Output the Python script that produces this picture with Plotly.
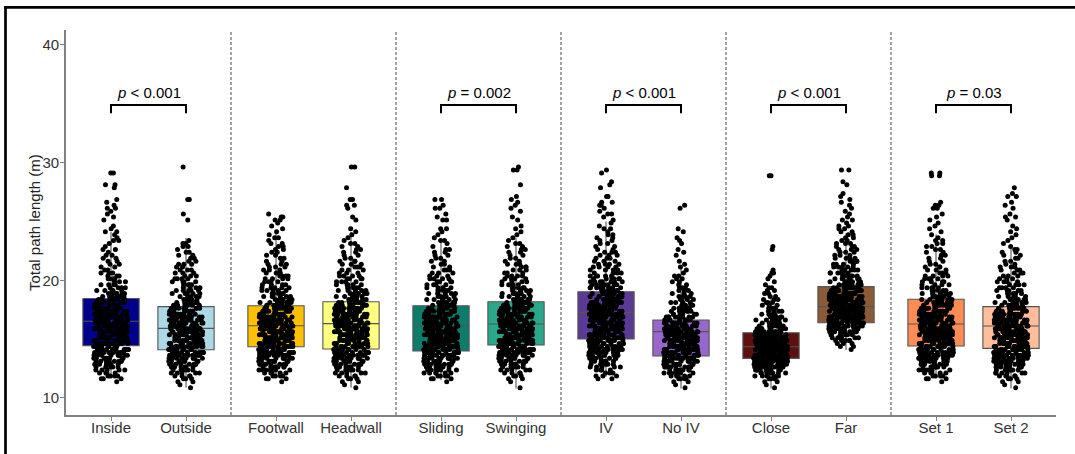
import plotly.graph_objects as go

# ---------------- data ----------------
categories = ["Inside", "Outside", "Footwall", "Headwall", "Sliding", "Swinging",
              "IV", "No IV", "Close", "Far", "Set 1", "Set 2"]
box_colors = ["#00008B", "#ADD8E6", "#FFC000", "#FFFF80", "#0E7C6B", "#2AA68A",
              "#5A3A94", "#9966CC", "#5E1010", "#8B5A36", "#FF8C55", "#FFBD9B"]

q1 = [14.45, 14.10, 14.36, 14.16, 14.00, 14.50, 15.01, 13.57, 13.37, 16.40, 14.42, 14.22]
median = [16.52, 15.92, 16.14, 16.32, 16.14, 16.29, 17.25, 15.64, 14.36, 17.76, 16.29, 16.12]
q3 = [18.45, 17.76, 17.84, 18.18, 17.84, 18.18, 19.03, 16.63, 15.55, 19.46, 18.39, 17.76]
lower_whisker = [11.67, 10.90, 11.67, 10.90, 11.50, 10.80, 11.80, 10.80, 10.80, 14.08, 11.67, 10.80]
upper_whisker = [24.10, 23.60, 24.30, 24.10, 23.50, 23.60, 25.00, 21.00, 18.80, 24.00, 23.90, 23.00]

# individual path lengths, read as counts per 0.25 m bin starting at 10.0 m (80 bins)
bin_start = 10.0
bin_width = 0.25
counts_inside = [0,0,0,0, 0,1,3,4, 4,5,6,7, 8,9,10,11, 10,11,10,11, 11,10,11,10, 10,11,10,9, 10,9,9,8,
                 9,8,7,6, 5,4,4,3, 4,3,3,2, 2,2,2,2, 2,1,2,1, 1,2,1,1, 2,1,1,0, 1,1,1,1, 2,1,1,1,
                 0,0,0,1, 2,0,0,0, 2,0,0,0]
counts_outside = [0,0,0,1, 1,2,3,4, 5,6,7,8, 9,10,10,11, 11,12,11,12, 12,11,12,11, 11,11,10,10, 9,9,8,7,
                  6,6,5,5, 5,4,4,4, 4,3,3,3, 2,3,2,2, 2,2,1,2, 2,1,0,0, 0,0,0,0, 1,0,1,0, 0,0,0,2,
                  0,0,0,0, 0,0,0,0, 0,0,1,0]
counts_footwall = [0,0,0,0, 0,1,3,4, 5,7,8,9, 10,10,11,12, 12,12,12,12, 12,12,12,12, 12,11,11,10, 10,9,9,8,
                   7,6,6,5, 5,5,4,4, 4,4,3,3, 3,3,2,2, 2,2,2,2, 2,1,2,1, 1,1,1,1, 2,2,1,0, 0,0,0,0,
                   0,0,0,0, 0,0,0,0, 0,0,0,0]
counts_headwall = [0,0,0,1, 1,2,3,4, 5,6,7,8, 9,9,10,10, 11,11,11,11, 11,11,11,11, 11,11,10,10, 10,9,9,9,
                   8,7,6,6, 5,5,5,4, 4,4,3,3, 3,3,3,2, 2,2,2,2, 2,1,1,1, 1,1,0,0, 1,1,0,0, 1,2,0,2,
                   0,0,0,1, 0,0,0,0, 0,0,2,0]
counts_sliding = [0,0,0,0, 0,1,3,4, 6,7,8,9, 10,11,11,12, 12,12,12,12, 12,12,12,11, 11,11,10,10, 9,9,8,7,
                  7,6,5,5, 5,4,4,4, 4,3,3,3, 2,2,2,2, 2,2,2,1, 1,2,1,1, 1,2,0,0, 2,1,1,0, 2,1,0,2,
                  0,0,0,0, 0,0,0,0, 0,0,0,0]
counts_swinging = [0,0,0,1, 0,1,2,3, 4,5,6,7, 8,9,10,11, 11,12,12,12, 12,12,12,12, 12,11,11,10, 10,10,9,9,
                   8,7,6,6, 5,5,4,4, 4,4,3,3, 3,3,2,2, 2,2,2,2, 2,1,1,1, 1,1,1,0, 1,1,0,1, 1,1,1,1,
                   1,0,0,0, 1,0,0,0, 0,2,1,0]
counts_iv = [0,0,0,0, 0,0,2,3, 3,4,5,6, 6,7,8,9, 9,10,11,11, 11,11,12,12, 12,12,12,12, 12,11,11,11,
             11,10,10,9, 8,8,7,7, 6,5,5,4, 4,4,3,3, 3,3,2,2, 2,2,2,2, 1,2,1,1, 1,1,2,1, 1,2,2,0,
             2,0,0,1, 1,1,0,0, 1,1,0,0]
counts_no_iv = [0,0,0,1, 1,2,4,5, 7,8,9,10, 11,12,12,13, 13,13,13,13, 13,13,12,12, 11,10,9,8, 7,6,5,5,
                4,4,4,3, 3,3,2,2, 2,2,1,1, 1,1,1,0, 1,1,1,0, 1,1,1,0, 1,1,0,0, 0,0,0,0, 1,1,0,0,
                0,0,0,0, 0,0,0,0, 0,0,0,0]
counts_close = [0,0,0,1, 1,2,4,6, 8,10,12,14, 16,17,18,18, 18,18,17,16, 14,12,10,9, 8,7,6,5, 5,4,4,3,
                3,3,2,2, 2,2,1,1, 1,1,2,1, 0,0,0,0, 0,0,1,1, 0,0,0,0, 0,0,0,0, 0,0,0,0, 0,0,0,0,
                0,0,0,0, 0,0,0,2, 0,0,0,0]
counts_far = [0,0,0,0, 0,0,0,0, 0,0,0,0, 0,0,0,0, 1,2,3,5, 6,8,10,12, 14,15,16,17, 17,17,17,16,
              15,14,13,12, 11,10,9,8, 7,6,6,5, 5,4,4,4, 3,3,3,3, 3,2,2,2, 2,2,2,1, 2,1,1,1, 1,1,1,1,
              1,1,0,0, 1,1,0,0, 0,2,0,0]
counts_set1 = [0,0,0,0, 0,1,3,4, 5,6,7,8, 9,10,10,11, 11,11,12,12, 12,12,12,12, 11,11,11,10, 10,10,9,9,
               8,7,6,6, 5,5,4,4, 4,4,3,3, 3,2,2,2, 2,2,2,2, 2,2,1,1, 1,1,1,1, 1,1,1,0, 2,2,1,0,
               0,0,0,0, 0,0,0,2, 2,0,0,0]
counts_set2 = [0,0,0,1, 1,2,3,5, 6,7,8,9, 10,11,11,12, 12,12,12,12, 12,12,12,12, 11,11,10,10, 9,8,8,7,
               6,6,5,5, 5,4,4,4, 3,3,3,3, 3,2,2,2, 2,2,2,1, 1,1,1,1, 1,1,1,0, 1,2,1,0, 1,1,1,0,
               2,1,0,1, 0,0,0,0, 0,0,0,0]
all_counts = [counts_inside, counts_outside, counts_footwall, counts_headwall, counts_sliding,
              counts_swinging, counts_iv, counts_no_iv, counts_close, counts_far, counts_set1, counts_set2]

# significance brackets: (index of left category, label)
comparisons = [(0, "<i>p</i> &lt; 0.001"), (4, "<i>p</i> = 0.002"), (6, "<i>p</i> &lt; 0.001"),
               (8, "<i>p</i> &lt; 0.001"), (10, "<i>p</i> = 0.03")]

# ---------------- layout helpers ----------------
GROUP_W = 2.2
positions = [(i // 2) * GROUP_W + 0.6 + (i % 2) for i in range(len(categories))]
BOX_W = 0.75
W, H = 1075, 454
ML, MR, MT, MB = 66, 19, 30, 39
PW, PH = W - ML - MR, H - MT - MB


def px_x(p):
    return (p - ML) / PW


def px_y(p):
    return (H - MB - p) / PH


fig = go.Figure()

for i, cat in enumerate(categories):
    fig.add_trace(go.Box(
        x=[positions[i]], q1=[q1[i]], median=[median[i]], q3=[q3[i]],
        lowerfence=[lower_whisker[i]], upperfence=[upper_whisker[i]],
        width=BOX_W, whiskerwidth=0, fillcolor=box_colors[i],
        line=dict(color="#555555", width=1.1), boxpoints=False,
        name=cat, showlegend=False, hoverinfo="skip"))

for i, cat in enumerate(categories):
    vals = [bin_start + bin_width * (k + 0.5) for k, c in enumerate(all_counts[i]) for _ in range(c)]
    fig.add_trace(go.Box(
        x=[positions[i]] * len(vals), y=vals, width=BOX_W, whiskerwidth=0,
        boxpoints="all", jitter=0.62, pointpos=0,
        fillcolor="rgba(0,0,0,0)", line=dict(color="rgba(0,0,0,0)", width=0),
        marker=dict(color="black", size=5, line=dict(width=0)),
        name=cat, showlegend=False))

shapes = []
# dashed separators between groups
for g in range(1, 6):
    shapes.append(dict(type="line", xref="x", yref="paper", x0=g * GROUP_W, x1=g * GROUP_W,
                       y0=0, y1=1, line=dict(color="#666666", width=1.2, dash="3px,2px")))
annotations = []
BR_Y, BR_TICK, LBL_Y = 34.9, 34.2, 36.0
for idx, label in comparisons:
    xa, xb = positions[idx], positions[idx + 1]
    shapes.append(dict(type="path", xref="x", yref="y",
                       path=f"M{xa},{BR_TICK} L{xa},{BR_Y} L{xb},{BR_Y} L{xb},{BR_TICK}",
                       line=dict(color="black", width=2)))
    annotations.append(dict(x=(xa + xb) / 2, y=LBL_Y, xref="x", yref="y", text=label,
                            showarrow=False, xanchor="center", yanchor="middle",
                            font=dict(size=15, color="black")))

# outer frame (top and left edges)
shapes.append(dict(type="line", xref="paper", yref="paper", x0=px_x(4), x1=px_x(1075),
                   y0=px_y(7.3), y1=px_y(7.3), line=dict(color="black", width=2.7)))
shapes.append(dict(type="line", xref="paper", yref="paper", x0=px_x(5.5), x1=px_x(5.5),
                   y0=px_y(454), y1=px_y(6), line=dict(color="black", width=2.7)))

annotations.append(dict(x=px_x(34.5), y=0.5, xref="paper", yref="paper",
                        text="Total path length (m)", textangle=-90, showarrow=False,
                        xanchor="center", yanchor="middle", font=dict(size=15, color="#222222")))

fig.update_layout(
    width=W, height=H, margin=dict(l=ML, r=MR, t=MT, b=MB),
    paper_bgcolor="white", plot_bgcolor="white",
    font=dict(family="Liberation Sans, Arial, sans-serif", size=15, color="#333333"),
    boxmode="overlay", showlegend=False,
    shapes=shapes, annotations=annotations,
    xaxis=dict(range=[0, 6 * GROUP_W], tickmode="array", tickvals=positions, ticktext=categories,
               showgrid=False, zeroline=False, showline=True, linecolor="#808080", linewidth=1.6,
               ticks="outside", ticklen=4, tickcolor="#808080", tickwidth=1,
               ticklabelstandoff=-6,
               tickfont=dict(size=15, color="#333333")),
    yaxis=dict(range=[8.555, 41.27], tickmode="array", tickvals=[10, 20, 30, 40],
               showgrid=False, zeroline=False, showline=True, linecolor="#808080", linewidth=1.6,
               ticks="outside", ticklen=4, tickcolor="#808080", tickwidth=1,
               ticklabelstandoff=-2,
               tickfont=dict(size=15, color="#333333")),
)

fig.write_html("out.html")
